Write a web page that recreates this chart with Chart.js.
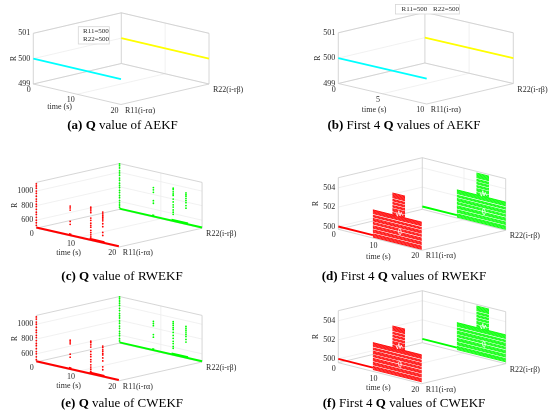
<!DOCTYPE html>
<html>
<head>
<meta charset="utf-8">
<script src="https://cdn.jsdelivr.net/npm/chart.js@4.4.0/dist/chart.umd.min.js"></script>
<style>
  body { margin: 0; background: #fff; }
  #fig { position: relative; width: 550px; height: 419px; overflow: hidden; font-family: "Liberation Serif", serif; }
  #fig canvas { position: absolute; }
  .cap { position: absolute; font-size: 13px; color: #000; white-space: nowrap; transform: translate(-50%, -50%); }
</style>
</head>
<body>
<div id="fig"></div>
<script>
// ---- data ----
const catLabels = ["R11(i-r\u03b1)", "R22(i-r\u03b2)"];

// (a) / (b) AEKF: R stays at 500
const aekfTime = [0, 20];
const aekfR11 = [500, 500];
const aekfR22 = [500, 500];
const aekf4Time = [0, 10];
const aekf4R11 = [500, 500];
const aekf4R22 = [500, 500];
const aekfTicksR = [499, 500, 501];

// (c) / (e) full Q of RWEKF / CWEKF: base at 500, outlier columns
const fullTicksT = [0, 10, 20];
const fullTicksR = [600, 800, 1000];
const fullBaseT = [0, 20];
const fullBaseR = 500;
const rwR11ColT = [0, 8.2, 13.2, 16.1];
const rwR11ColR = [
  [530, 565, 600, 640, 680, 710, 750, 790, 820, 860, 890, 930, 970, 1000, 1040, 1070, 1100],
  [900, 875, 845, 690, 650],
  [950, 925, 900, 875, 800, 770, 730, 700, 675, 630, 600, 570, 540],
  [920, 895, 870, 850, 825, 800, 760, 720, 640, 600]
];
const rwR22ColT = [0, 8.2, 13.0, 16.1];
const rwR22ColR = [
  [520, 550, 580, 610, 650, 680, 720, 750, 790, 820, 850, 890, 920, 960, 990, 1020, 1060, 1090, 1115],
  [895, 865, 830, 715, 680],
  [950, 930, 900, 870, 850, 800, 760, 720, 690, 650, 620, 590],
  [925, 900, 880, 850, 820, 790, 750, 715]
];
const rwR11Bands = [[7.9, 8.5], [12.9, 16.5]];
const rwR22Bands = [[7.9, 8.4], [12.6, 16.6]];
const cwR11ColT = [0, 8.2, 13.2, 16.1];
const cwR11ColR = [
  [520, 560, 600, 630, 670, 710, 740, 780, 820, 850, 890, 920, 960, 1000, 1030, 1070, 1100],
  [890, 865, 840, 700, 660],
  [940, 920, 890, 860, 800, 760, 730, 690, 660, 620, 590, 560, 530],
  [910, 890, 860, 840, 810, 790, 750, 710, 630, 590]
];
const cwR22ColT = [0, 8.2, 13.0, 16.1];
const cwR22ColR = [
  [520, 550, 590, 620, 650, 690, 720, 760, 790, 830, 860, 890, 930, 960, 1000, 1030, 1060, 1090, 1115],
  [890, 860, 830, 710, 675],
  [945, 920, 895, 865, 840, 800, 760, 720, 680, 650, 610, 585],
  [920, 895, 870, 845, 815, 785, 745, 710]
];
const bandR = 512;

// (d) / (f) first 4 Q values: flat at 500, then a dense band of levels
const firstTicksR = [500, 502, 504];
const firstBaseT = [0, 8.3];
const firstLowT = [8.3, 20];
const firstHighT = [13, 16];
const firstLowLevels = [499.8, 499.88, 499.97, 500.05, 500.13, 500.3, 500.38, 500.47, 500.55, 500.72, 500.8,
  500.88, 500.97, 501.15, 501.23, 501.32, 501.48, 501.56, 501.64, 501.73, 501.9, 501.98, 502.06,
  502.24, 502.32, 502.4, 502.48, 502.56, 502.62];
const firstHighLevels = [502.7, 502.78, 502.86, 503.02, 503.1, 503.18, 503.26, 503.42, 503.5, 503.58,
  503.75, 503.83, 503.91, 504.07, 504.15, 504.23, 504.4, 504.48, 504.56, 504.64, 504.72, 504.8, 504.88];
const firstLoopT = [14.4, 14.6, 14.9, 15.1, 14.95, 14.65, 14.4];
const firstLoopR = [501.1, 500.8, 500.75, 501.0, 501.35, 501.4, 501.1];
const firstWiggleT = [13.9, 14.2, 14.5, 14.8, 15.1, 15.4];
const firstWiggleR = [502.9, 502.6, 503.2, 502.7, 503.1, 502.8];

// ---- helpers ----
const AX = "#cccccc", GRID = "#eeeeee", TXT = "#2b2b2b";
const CYAN = "#00ffff", YELLOW = "#ffff00", RED = "#ff0000", GREEN = "#00ff00";
const LINE = { showLine: true, pointRadius: 0, spanGaps: false, fill: false };

function proj(p, t, c, r) {
  const ft = t / p.tMax, fr = (r - p.rMin) / (p.rMax - p.rMin);
  return { x: p.L[0] + ft * p.T[0] + c * p.C[0], y: p.L[1] + ft * p.T[1] + c * p.C[1] - fr * p.H };
}
function segs(p, list) {
  const out = [];
  list.forEach(([a, b]) => out.push(proj(p, a[0], a[1], a[2]), proj(p, b[0], b[1], b[2]), { x: NaN, y: NaN }));
  return out;
}
function lineOf(p, c, ts, rs) {
  return ts.map((t, i) => proj(p, t, c, rs[i]));
}
function colPoints(p, c, ts, rs) {
  const out = [];
  ts.forEach((t, i) => rs[i].forEach(r => out.push(proj(p, t, c, r))));
  return out;
}

function frameSets(p) {
  const tm = p.tMax, r0 = p.rMin, r1 = p.rMax;
  const box = [
    [[0, 0, r0], [0, 0, r1]], [[0, 0, r1], [0, 1, r1]], [[0, 1, r1], [tm, 1, r1]],
    [[tm, 1, r0], [tm, 1, r1]], [[0, 1, r0], [0, 1, r1]], [[0, 0, r0], [0, 1, r0]],
    [[0, 1, r0], [tm, 1, r0]], [[0, 0, r0], [tm, 0, r0]], [[tm, 0, r0], [tm, 1, r0]]
  ];
  const grid = [];
  p.rTicks.forEach(r => grid.push([[0, 0, r], [0, 1, r]], [[0, 1, r], [tm, 1, r]]));
  p.tTicks.filter(t => t > 0 && t < tm).forEach(t => grid.push([[t, 1, r0], [t, 1, r1]], [[t, 0, r0], [t, 1, r0]]));
  return [
    { ...LINE, data: segs(p, grid), borderColor: GRID, borderWidth: 0.8, order: 9 },
    { ...LINE, data: segs(p, box), borderColor: AX, borderWidth: 0.8, order: 8 }
  ];
}

function flatSets(p, ts, r11, r22) {
  return [
    { ...LINE, data: lineOf(p, 0, ts, r11), borderColor: CYAN, borderWidth: 1.6, order: 1 },
    { ...LINE, data: lineOf(p, 1, ts, r22), borderColor: YELLOW, borderWidth: 1.6, order: 1 }
  ];
}

function fullSets(p, c11T, c11R, c22T, c22R) {
  const out = [];
  [[0, RED, c11T, c11R, rwR11Bands], [1, GREEN, c22T, c22R, rwR22Bands]].forEach(([c, col, ts, rs, bands]) => {
    out.push({ ...LINE, data: segs(p, [[[fullBaseT[0], c, fullBaseR], [fullBaseT[1], c, fullBaseR]]]), borderColor: col, borderWidth: 2, order: 1 });
    out.push({ ...LINE, data: segs(p, bands.map(b => [[b[0], c, bandR], [b[1], c, bandR]])), borderColor: col, borderWidth: 2, order: 1 });
    out.push({ data: colPoints(p, c, ts, rs), backgroundColor: col, borderWidth: 0, pointRadius: 0.9, showLine: false, order: 1 });
  });
  return out;
}

function firstSets(p) {
  const out = [];
  [[0, RED], [1, GREEN]].forEach(([c, col]) => {
    out.push({ ...LINE, data: segs(p, [[[firstBaseT[0], c, 500], [firstBaseT[1], c, 500]]]), borderColor: col, borderWidth: 2, order: 2 });
    const lv = firstLowLevels.map(l => [[firstLowT[0], c, l], [firstLowT[1], c, l]])
      .concat(firstHighLevels.map(l => [[firstHighT[0], c, l], [firstHighT[1], c, l]]));
    out.push({ ...LINE, data: segs(p, lv), borderColor: col, borderWidth: 0.9, order: 2 });
    out.push({ ...LINE, data: lineOf(p, c, firstLoopT, firstLoopR), borderColor: "#ffffff", borderWidth: 0.8, order: 1 });
    out.push({ ...LINE, data: lineOf(p, c, firstWiggleT, firstWiggleR), borderColor: "#ffffff", borderWidth: 0.8, order: 1 });
  });
  return out;
}

// ---- panels (layout) ----
const panels = [
  { left: 0, top: 0, L: [33.3, 84], T: [87.7, 20.5], C: [88, -20.5], H: 50.7, tMax: 20, rMin: 499, rMax: 501,
    tTicks: [0, 10, 20], rTicks: aekfTicksR, tLab: [-17.5, 12.5], rLab: -19.5,
    legend: { box: [78.3, 26.7, 109.3, 44], items: [[83, 31], [83, 39.3]] },
    cap: [122.5, 125], caption: "<b>(a)</b> <b>Q</b> value of AEKF",
    sets: p => flatSets(p, aekfTime, aekfR11, aekfR22) },
  { left: 275, top: 0, L: [63.3, 83.5], T: [88.4, 20.5], C: [86.6, -20.5], H: 50.7, tMax: 10, rMin: 499, rMax: 501,
    tTicks: [0, 5, 10], rTicks: aekfTicksR, tLab: [-8.3, 16.5], rLab: -20.5,
    legend: { box: [120.5, 4.5, 184.5, 14], items: [[126.5, 9.5], [158, 9.5]] },
    cap: [129, 125], caption: "<b>(b)</b> First 4 <b>Q</b> values of AEKF",
    sets: p => flatSets(p, aekf4Time, aekf4R11, aekf4R22) },
  { left: 0, top: 140, L: [33.3, 89.3], T: [85, 20], C: [85.7, -20], H: 48.6, tMax: 20, rMin: 490, rMax: 1120,
    tTicks: fullTicksT, rTicks: fullTicksR, tLab: [-9, 15.7], rLab: -21.5,
    cap: [122, 136], caption: "<b>(c)</b> <b>Q</b> value of RWEKF",
    sets: p => fullSets(p, rwR11ColT, rwR11ColR, rwR22ColT, rwR22ColR) },
  { left: 275, top: 140, L: [63.3, 89.3], T: [83.4, 21], C: [84, -20], H: 51.6, tMax: 20, rMin: 499.7, rMax: 505.05,
    tTicks: fullTicksT, rTicks: firstTicksR, tLab: [-1.7, 16.9], rLab: -22,
    cap: [129, 136], caption: "<b>(d)</b> First 4 <b>Q</b> values of RWEKF",
    sets: p => firstSets(p) },
  { left: 0, top: 280, L: [33.3, 82.7], T: [85, 20], C: [85.7, -20], H: 49.4, tMax: 20, rMin: 490, rMax: 1120,
    tTicks: fullTicksT, rTicks: fullTicksR, tLab: [-9, 14.6], rLab: -21.5,
    cap: [122, 123], caption: "<b>(e)</b> <b>Q</b> value of CWEKF",
    sets: p => fullSets(p, cwR11ColT, cwR11ColR, cwR22ColT, cwR22ColR) },
  { left: 275, top: 280, L: [63.3, 82.7], T: [83.4, 21], C: [84, -20], H: 52, tMax: 20, rMin: 499.6, rMax: 505.05,
    tTicks: fullTicksT, rTicks: firstTicksR, tLab: [-1.7, 15.1], rLab: -22,
    cap: [129, 123], caption: "<b>(f)</b> First 4 <b>Q</b> values of CWEKF",
    sets: p => firstSets(p) }
];
const legendTexts = ["R11=" + aekfR11[0], "R22=" + aekfR22[0]];

const labels3d = {
  id: "labels3d",
  afterDatasetsDraw(chart, args, opts) {
    const p = opts.panel;
    if (!p) return;
    const ctx = chart.ctx, sx = chart.scales.x, sy = chart.scales.y;
    const px = q => [sx.getPixelForValue(q.x), sy.getPixelForValue(q.y)];
    ctx.save();
    ctx.fillStyle = TXT;
    ctx.font = '8px "Liberation Serif"';
    ctx.textBaseline = "middle";
    ctx.textAlign = "right";
    p.rTicks.forEach(r => { const [x, y] = px(proj(p, 0, 0, r)); ctx.fillText(String(r), x - 3, y); });
    p.tTicks.forEach(t => { const [x, y] = px(proj(p, t, 0, p.rMin)); ctx.fillText(String(t), x - 2.5, y + 6); });
    ctx.textAlign = "left";
    catLabels.forEach((s, c) => { const [x, y] = px(proj(p, p.tMax, c, p.rMin)); ctx.fillText(s, x + 4, y + 6); });
    ctx.textAlign = "center";
    const [mx, my] = px(proj(p, p.tMax / 2, 0, p.rMin));
    ctx.fillText("time (s)", mx + p.tLab[0], my + p.tLab[1]);
    const [lx, ly] = px(proj(p, 0, 0, (p.rMin + p.rMax) / 2));
    ctx.save();
    ctx.translate(lx + p.rLab, ly);
    ctx.rotate(-Math.PI / 2);
    ctx.fillText("R", 0, 0);
    ctx.restore();
    if (p.legend) {
      const b = p.legend.box;
      ctx.fillStyle = "#ffffff";
      ctx.fillRect(b[0], b[1], b[2] - b[0], b[3] - b[1]);
      ctx.strokeStyle = "#d6d6d6";
      ctx.lineWidth = 0.8;
      ctx.strokeRect(b[0], b[1], b[2] - b[0], b[3] - b[1]);
      ctx.fillStyle = TXT;
      ctx.font = '7px "Liberation Serif"';
      ctx.textAlign = "left";
      p.legend.items.forEach((it, i) => ctx.fillText(legendTexts[i], it[0], it[1]));
    }
    ctx.restore();
  }
};

const fig = document.getElementById("fig");
panels.forEach(p => {
  const cv = document.createElement("canvas");
  cv.width = 275; cv.height = 140;
  cv.style.left = p.left + "px"; cv.style.top = p.top + "px";
  cv.style.width = "275px"; cv.style.height = "140px";
  fig.appendChild(cv);
  new Chart(cv, {
    type: "scatter",
    data: { datasets: frameSets(p).concat(p.sets(p)) },
    options: {
      responsive: false,
      animation: false,
      layout: { padding: 0 },
      events: [],
      plugins: { legend: { display: false }, tooltip: { enabled: false }, labels3d: { panel: p } },
      scales: {
        x: { type: "linear", display: false, min: 0, max: 275 },
        y: { type: "linear", display: false, min: 0, max: 140, reverse: true }
      }
    },
    plugins: [labels3d]
  });
  const cap = document.createElement("div");
  cap.className = "cap";
  cap.style.left = (p.left + p.cap[0]) + "px";
  cap.style.top = (p.top + p.cap[1]) + "px";
  cap.innerHTML = p.caption;
  fig.appendChild(cap);
});
</script>
</body>
</html>
